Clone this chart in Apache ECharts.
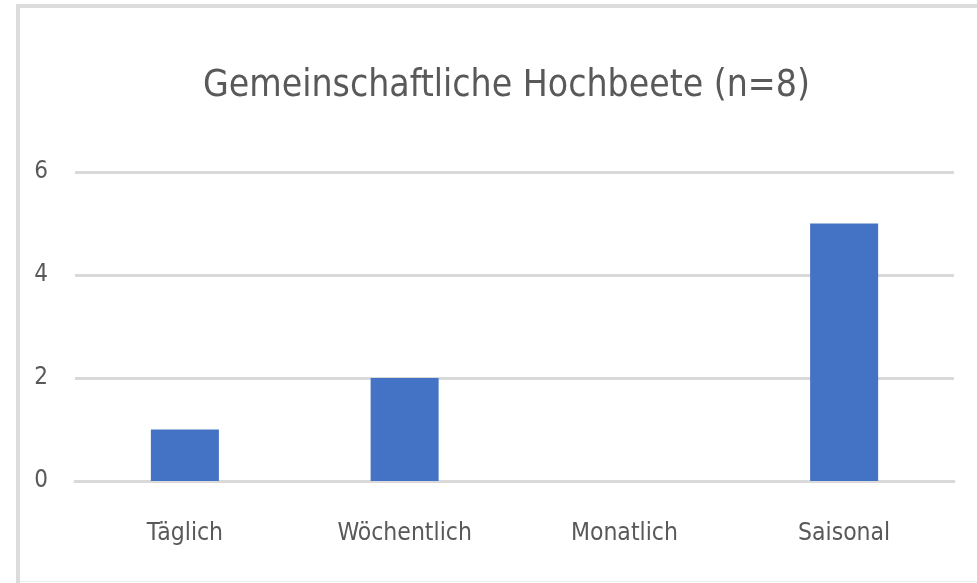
<!DOCTYPE html>
<html>
<head>
<meta charset="utf-8">
<script src="https://cdn.jsdelivr.net/npm/echarts@6/dist/echarts.min.js"></script>
<style>
html,body{margin:0;padding:0;background:#fff;}
#chart{width:977px;height:583px;}
</style>
</head>
<body>
<div id="chart"></div>
<script>
var titleText = 'Gemeinschaftliche Hochbeete (n=8)';
var categories = ['Täglich', 'Wöchentlich', 'Monatlich', 'Saisonal'];
var values = [1, 2, 0, 5];
var yTicks = [0, 2, 4, 6];

var FONT = '"DejaVu Sans Condensed", "Liberation Sans Narrow", sans-serif';
var chart = echarts.init(document.getElementById('chart'), null, {renderer: 'canvas'});
chart.setOption({
  backgroundColor: '#ffffff',
  animation: false,
  title: {
    text: titleText,
    left: 198,
    top: 63,
    textStyle: {fontFamily: FONT, fontSize: 37, fontWeight: 'normal', color: '#595959'}
  },
  graphic: [
    {type: 'rect', shape: {x: 16, y: 4, width: 961, height: 4}, style: {fill: '#dcdcdc'}, silent: true},
    {type: 'rect', shape: {x: 16, y: 4, width: 4, height: 579}, style: {fill: '#dcdcdc'}, silent: true},
    {type: 'rect', shape: {x: 20, y: 581, width: 957, height: 1}, style: {fill: '#eeeeee'}, silent: true}
  ],
  grid: {left: 75, right: 23, top: 172, bottom: 102, containLabel: false},
  xAxis: {
    type: 'category',
    data: categories,
    axisLine: {show: true, lineStyle: {color: '#d9d9d9', width: 3}},
    axisTick: {show: false},
    axisLabel: {fontFamily: FONT, fontSize: 24.5, color: '#595959', margin: 40}
  },
  yAxis: {
    type: 'value',
    min: yTicks[0],
    max: yTicks[yTicks.length - 1],
    interval: 2,
    axisLine: {show: false},
    axisTick: {show: false},
    splitLine: {lineStyle: {color: '#d9d9d9', width: 3}},
    axisLabel: {fontFamily: FONT, fontSize: 24, color: '#595959', margin: 27}
  },
  series: [{
    type: 'bar',
    data: values,
    barWidth: 68,
    itemStyle: {color: '#4472c4'}
  }]
});
</script>
</body>
</html>
